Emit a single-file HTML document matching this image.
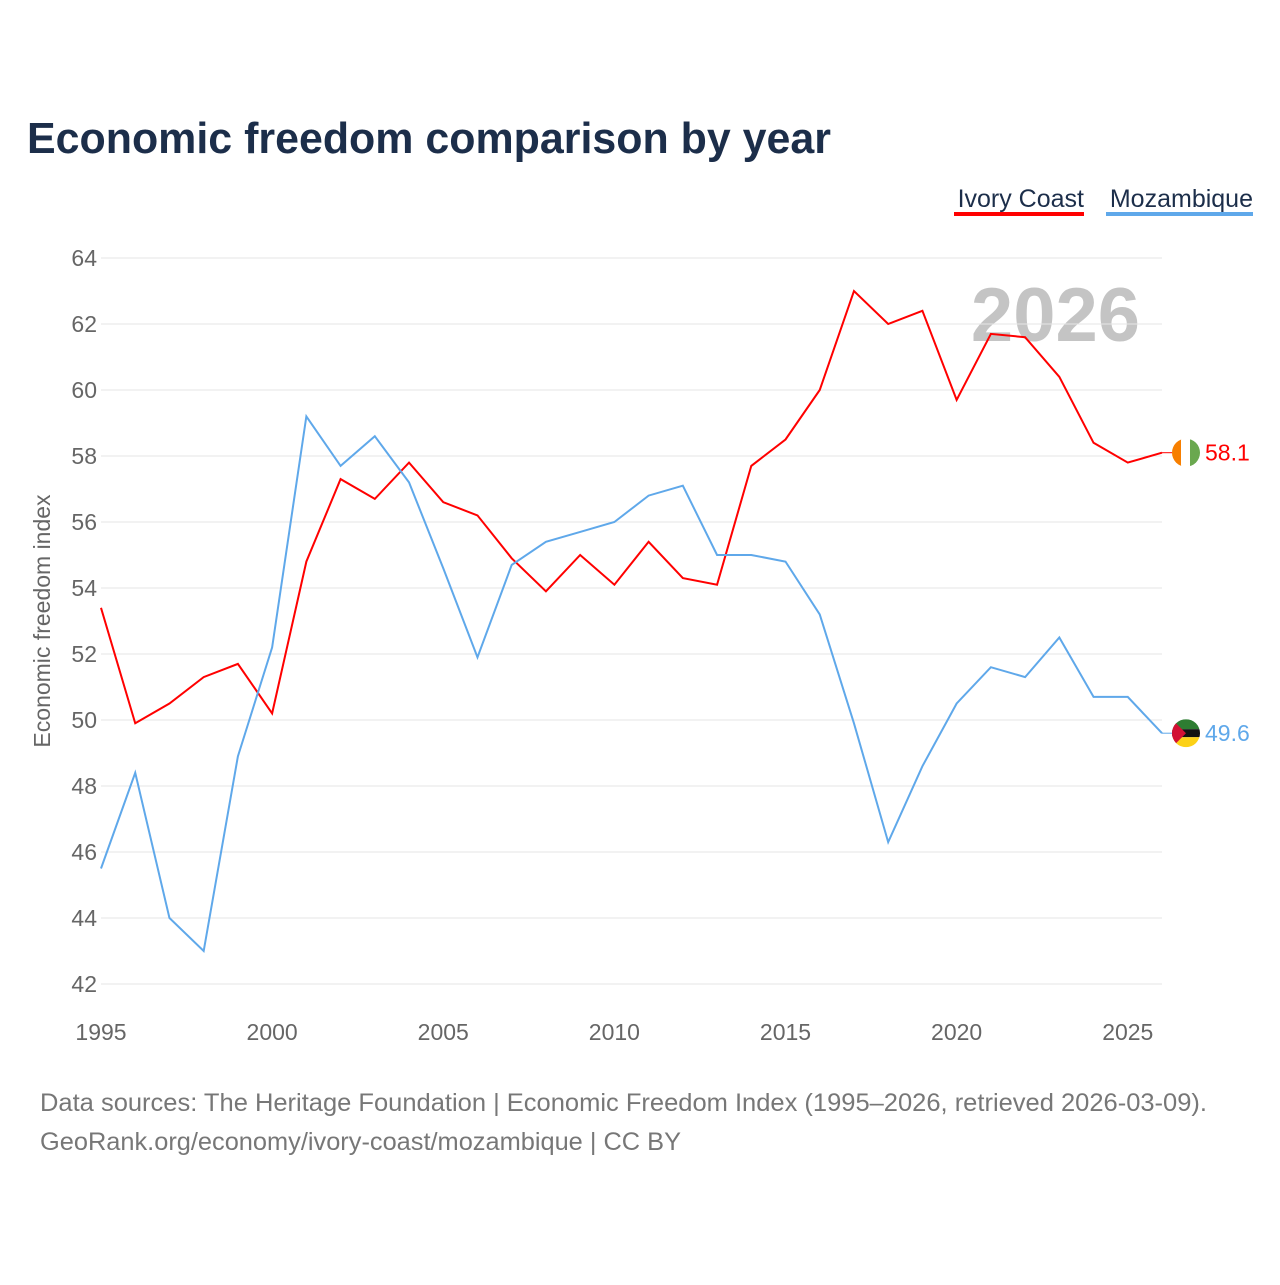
<!DOCTYPE html>
<html><head><meta charset="utf-8"><style>
body{margin:0;background:#fff;font-family:"Liberation Sans",sans-serif}
</style></head><body>
<svg id="chart" width="1280" height="1280" xmlns="http://www.w3.org/2000/svg" font-family="Liberation Sans, sans-serif">
<text x="27" y="153" font-size="44" font-weight="bold" fill="#1c2e4a" textLength="804" lengthAdjust="spacingAndGlyphs">Economic freedom comparison by year</text>
<g>
<text x="1084" y="207" font-size="25" fill="#1c2e4a" text-anchor="end">Ivory Coast</text>
<rect x="954" y="212" width="130" height="4" fill="#f00"/>
<text x="1253" y="207" font-size="25" fill="#1c2e4a" text-anchor="end">Mozambique</text>
<rect x="1106" y="212" width="147" height="4" fill="#5fa8ea"/>
</g>
<text x="1140" y="341" font-size="76" font-weight="bold" fill="#c4c4c4" text-anchor="end">2026</text>
<text transform="translate(50,621) rotate(-90)" font-size="23" fill="#666" text-anchor="middle">Economic freedom index</text>
<g id="grid"></g><g id="series"></g>
<text x="40" y="1111" font-size="25" fill="#777" textLength="1167" lengthAdjust="spacingAndGlyphs">Data sources: The Heritage Foundation | Economic Freedom Index (1995–2026, retrieved 2026-03-09).</text>
<text x="40" y="1150" font-size="25" fill="#777" textLength="641" lengthAdjust="spacingAndGlyphs">GeoRank.org/economy/ivory-coast/mozambique | CC BY</text>
</svg>
<script>
const years=[1995,1996,1997,1998,1999,2000,2001,2002,2003,2004,2005,2006,2007,2008,2009,2010,2011,2012,2013,2014,2015,2016,2017,2018,2019,2020,2021,2022,2023,2024,2025,2026];
const ivoryCoast=[53.4,49.9,50.5,51.3,51.7,50.2,54.8,57.3,56.7,57.8,56.6,56.2,54.9,53.9,55.0,54.1,55.4,54.3,54.1,57.7,58.5,60.0,63.0,62.0,62.4,59.7,61.7,61.6,60.4,58.4,57.8,58.1];
const mozambique=[45.5,48.4,44.0,43.0,48.9,52.2,59.2,57.7,58.6,57.2,54.6,51.9,54.7,55.4,55.7,56.0,56.8,57.1,55.0,55.0,54.8,53.2,49.9,46.3,48.6,50.5,51.6,51.3,52.5,50.7,50.7,49.6];
const yTicks=[42,44,46,48,50,52,54,56,58,60,62,64];
const xTicks=[1995,2000,2005,2010,2015,2020,2025];
const NS='http://www.w3.org/2000/svg';
const x=v=>101+(v-1995)*(1162-101)/31;
const y=v=>984-(v-42)*33;
function mk(t,a,p){const e=document.createElementNS(NS,t);for(const k in a)e.setAttribute(k,a[k]);p.appendChild(e);return e;}
const g=document.getElementById('grid'),s=document.getElementById('series');
yTicks.forEach(v=>{
 const l=mk('line',{x1:101,x2:1162,y1:y(v),y2:y(v),stroke:'#e6e6e6','stroke-width':1},g);
 
 
 const t=mk('text',{x:97,y:y(v)+8,'font-size':23,fill:'#666','text-anchor':'end'},g);t.textContent=v;
 
 
});
xTicks.forEach(v=>{
 const t=mk('text',{x:x(v),y:1040,'font-size':23,fill:'#666','text-anchor':'middle'},g);t.textContent=v;
 
 
});
function line(d,c,name){
 const p=mk('polyline',{points:d.map((v,i)=>x(years[i])+','+y(v)).join(' '),fill:'none',stroke:c,'stroke-width':2},s);
 
 
 const lv=d[d.length-1],cx=1186,cy=y(lv);
 mk('line',{x1:x(2026),x2:cx-14,y1:cy,y2:cy,stroke:c,'stroke-width':1},s);
 const t=mk('text',{x:1205,y:cy+8,'font-size':23,fill:c},s);t.textContent=lv.toFixed(1);
 
 
 return cy;
}
const cy1=line(ivoryCoast,'#f00','ivory-coast');
const cy2=line(mozambique,'#5fa8ea','mozambique');
const f1=mk('g',{},s);


const cp1=mk('clipPath',{id:'c1'},f1);mk('circle',{cx:1186,cy:cy1,r:14},cp1);
const gg1=mk('g',{'clip-path':'url(#c1)'},f1);
mk('rect',{x:1172,y:cy1-14,width:10,height:28,fill:'#f77f00'},gg1);
mk('rect',{x:1181,y:cy1-14,width:10,height:28,fill:'#fff'},gg1);
mk('rect',{x:1190,y:cy1-14,width:10,height:28,fill:'#6aa84f'},gg1);
const f2=mk('g',{},s);


const cp=mk('clipPath',{id:'c2'},f2);mk('circle',{cx:1186,cy:cy2,r:14},cp);
const gg2=mk('g',{'clip-path':'url(#c2)'},f2);
mk('rect',{x:1172,y:cy2-14,width:28,height:10,fill:'#2e7d32'},gg2);
mk('rect',{x:1172,y:cy2-4,width:28,height:8,fill:'#111'},gg2);
mk('rect',{x:1172,y:cy2+4,width:28,height:10,fill:'#fcd116'},gg2);
mk('polygon',{points:`1172,${cy2-14} 1186,${cy2} 1172,${cy2+14}`,fill:'#d21034'},gg2);
</script>
</body></html>
